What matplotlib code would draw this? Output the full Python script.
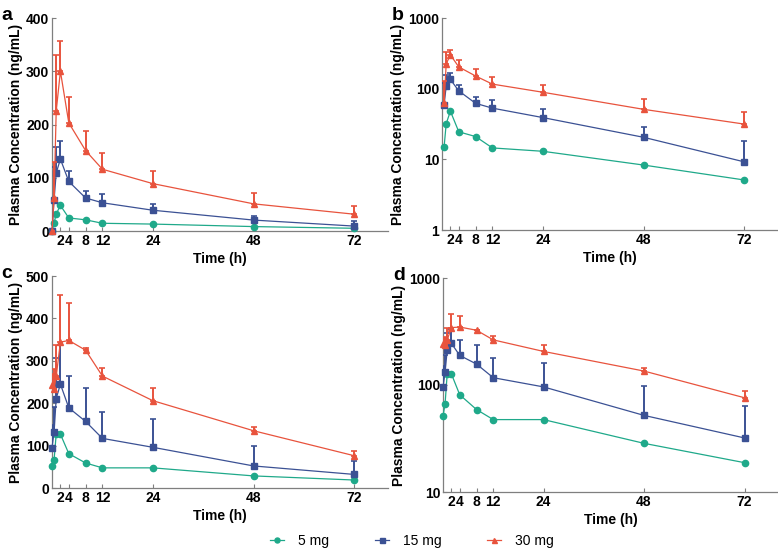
import numpy as np
import matplotlib.pyplot as plt

plt.rcParams['font.family'] = ['Liberation Sans', 'DejaVu Sans']

# single dose (panels a, b)
t_sd = [0, 0.5, 1, 2, 4, 8, 12, 24, 48, 72]
sd_5 = [0, 15, 32, 48, 24.5, 21, 14.5, 13, 8.3, 5.1]
sd_15 = [0, 59, 109, 135, 93, 62, 53, 39, 20.5, 9.2]
sd_15_err = [0, 62, 49, 34, 19, 14, 16, 12, 8.5, 8.8]
sd_30 = [0, 62, 225, 300, 203, 151, 116, 89, 51, 31.5]
sd_30_err = [0, 68, 105, 57, 49, 36, 31, 24, 21, 15.5]

# multiple dose (panels c, d)
t_md = [0, 0.5, 1, 2, 4, 8, 12, 24, 48, 72]
md_5 = [51, 67, 127, 127, 81, 59, 47.5, 47.5, 28.5, 18.8]
md_15 = [95, 132, 211, 245, 189, 157, 117, 96, 52, 32]
md_15_err = [54, 60, 95, 92, 75, 80, 63, 66, 46, 32]
md_30 = [242, 234, 263, 344, 348, 325, 264, 206, 135, 76]
md_30_err = [28, 46, 75, 112, 89, 5, 20, 31, 8, 12]

xticks = [2, 4, 8, 12, 24, 48, 72]
doses = ['5 mg', '15 mg', '30 mg']
colors = ['#1fa98a', '#3b5194', '#e8533d']
markers = ['o', 's', '^']

fig = plt.figure(figsize=(7.78, 5.48), dpi=100)
W, H = 778, 548

def make_ax(l, t, r, b):
    return fig.add_axes([l / W, 1 - b / H, (r - l) / W, (b - t) / H])

axes = {
    'a': make_ax(52, 18, 388, 231),
    'b': make_ax(442, 18, 778, 230),
    'c': make_ax(52, 276, 388, 488),
    'd': make_ax(443, 278, 778, 492),
}

def draw(ax, t, ys, errs, log):
    t = np.array(t, dtype=float)
    lines = []
    for i, y in enumerate(ys):
        y = np.array(y, dtype=float)
        if log:
            keep = y > 0
        else:
            keep = np.ones(len(y), bool)
        if errs[i] is not None:
            e = np.array(errs[i], dtype=float)
            ax.errorbar(t[keep], y[keep], yerr=[np.zeros(keep.sum()), e[keep]],
                        fmt='none', ecolor=colors[i], elinewidth=1.4,
                        capsize=2.5, capthick=1.2, zorder=2 + i)
        ln, = ax.plot(t[keep], y[keep], color=colors[i], marker=markers[i],
                      ms=4.5, lw=0.9, zorder=3 + i, clip_on=False)
        lines.append(ln)
    return lines

handles = draw(axes['a'], t_sd, [sd_5, sd_15, sd_30], [None, sd_15_err, sd_30_err], False)
draw(axes['b'], t_sd, [sd_5, sd_15, sd_30], [None, sd_15_err, sd_30_err], True)
draw(axes['c'], t_md, [md_5, md_15, md_30], [None, md_15_err, md_30_err], False)
draw(axes['d'], t_md, [md_5, md_15, md_30], [None, md_15_err, md_30_err], True)

axes['a'].set_ylim(0, 400)
axes['a'].set_yticks([0, 100, 200, 300, 400])
axes['b'].set_yscale('log')
axes['b'].set_ylim(1, 1000)
axes['b'].set_yticks([1, 10, 100, 1000])
axes['c'].set_ylim(0, 500)
axes['c'].set_yticks([0, 100, 200, 300, 400, 500])
axes['d'].set_yscale('log')
axes['d'].set_ylim(10, 1000)
axes['d'].set_yticks([10, 100, 1000])

for key, ax in axes.items():
    ax.set_xlim(0, 80)
    ax.set_xticks(xticks)
    ax.set_xticklabels([str(x) for x in xticks])
    if ax.get_yscale() == 'log':
        ax.set_yticklabels([str(int(v)) for v in ax.get_yticks()])
        ax.minorticks_off()
    for s in ['top', 'right']:
        ax.spines[s].set_visible(False)
    for s in ['left', 'bottom']:
        ax.spines[s].set_color('#7f7f7f')
        ax.spines[s].set_linewidth(0.9)
    ax.tick_params(direction='in', length=3, width=0.8, color='#7f7f7f',
                   labelsize=10, pad=2)
    for lab in ax.get_xticklabels() + ax.get_yticklabels():
        lab.set_fontweight('bold')
    ax.set_xlabel('Time (h)', fontsize=10, fontweight='bold', labelpad=3)
    ax.set_ylabel('Plasma Concentration (ng/mL)', fontsize=10, fontweight='bold', labelpad=2)
    ax.text(-0.15, 1.01, key, transform=ax.transAxes, fontsize=14,
            fontweight='bold', ha='left', va='center')

fig.legend(handles, doses, loc='center', bbox_to_anchor=(412 / W, 1 - 541 / H),
           ncol=3, frameon=False, fontsize=10, handlelength=1.0,
           columnspacing=3.3, handletextpad=1.0, markerscale=0.8)

fig.savefig('out.png', dpi=100)
